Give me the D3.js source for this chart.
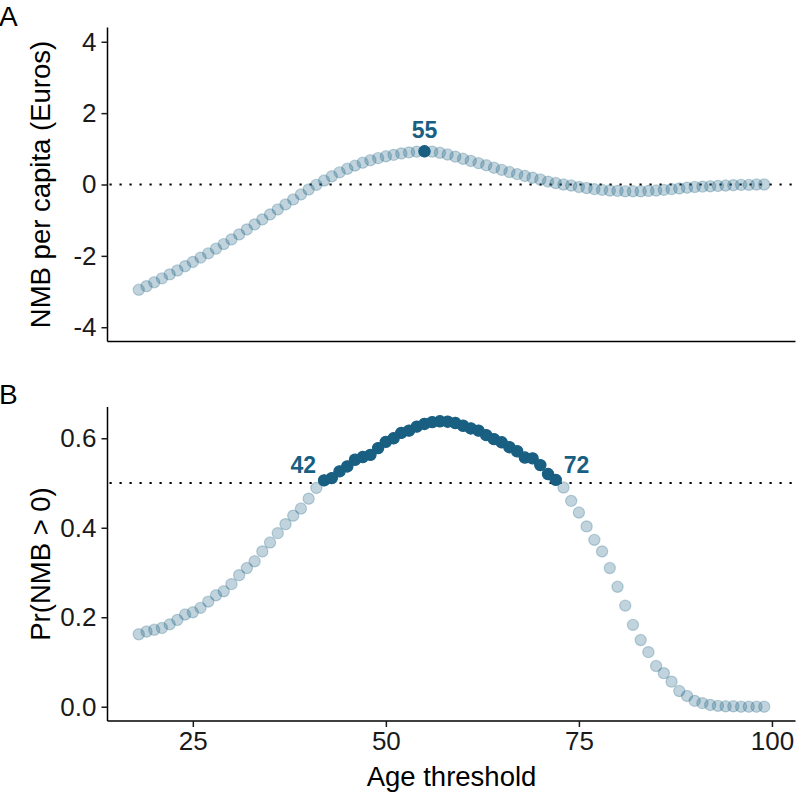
<!DOCTYPE html>
<html>
<head>
<meta charset="utf-8">
<script src="https://cdn.jsdelivr.net/npm/d3@7"></script>
<style>
  body { margin: 0; background: #fff; }
  svg text { font-family: "Liberation Sans", Arial, sans-serif; }
</style>
</head>
<body>
<div id="chart"></div>
<script>
// Age thresholds (x), shared by both panels
var ages = [18, 19, 20, 21, 22, 23, 24, 25, 26, 27, 28, 29, 30, 31, 32, 33, 34, 35, 36, 37,
  38, 39, 40, 41, 42, 43, 44, 45, 46, 47, 48, 49, 50, 51, 52, 53, 54, 55, 56, 57,
  58, 59, 60, 61, 62, 63, 64, 65, 66, 67, 68, 69, 70, 71, 72, 73, 74, 75, 76, 77,
  78, 79, 80, 81, 82, 83, 84, 85, 86, 87, 88, 89, 90, 91, 92, 93, 94, 95, 96, 97,
  98, 99];

// Panel A: net monetary benefit per capita (Euros)
var nmb = [-2.95, -2.85, -2.74, -2.63, -2.52, -2.41, -2.29, -2.17, -2.05, -1.93,
  -1.80, -1.67, -1.54, -1.40, -1.26, -1.12, -0.98, -0.84, -0.70, -0.56,
  -0.42, -0.28, -0.14, -0.01, 0.11, 0.23, 0.34, 0.44, 0.53, 0.61,
  0.68, 0.74, 0.79, 0.83, 0.87, 0.90, 0.92, 0.93, 0.92, 0.89,
  0.84, 0.78, 0.72, 0.66, 0.60, 0.54, 0.47, 0.41, 0.35, 0.29,
  0.24, 0.19, 0.14, 0.08, 0.04, 0.00, -0.03, -0.07, -0.10, -0.13,
  -0.15, -0.17, -0.18, -0.19, -0.19, -0.19, -0.18, -0.17, -0.15, -0.13,
  -0.11, -0.09, -0.07, -0.06, -0.05, -0.04, -0.03, -0.02, -0.01, -0.01,
  0.00, 0.00];

// Panel B: probability that NMB > 0
var prob = [0.162, 0.168, 0.172, 0.176, 0.184, 0.194, 0.206, 0.211, 0.221, 0.235,
  0.249, 0.258, 0.274, 0.294, 0.310, 0.325, 0.347, 0.367, 0.388, 0.408,
  0.427, 0.443, 0.465, 0.489, 0.506, 0.511, 0.526, 0.537, 0.552, 0.558,
  0.563, 0.578, 0.592, 0.600, 0.612, 0.617, 0.626, 0.632, 0.636, 0.638,
  0.637, 0.634, 0.628, 0.622, 0.617, 0.607, 0.598, 0.591, 0.580, 0.571,
  0.557, 0.555, 0.540, 0.520, 0.507, 0.490, 0.460, 0.434, 0.403, 0.373,
  0.347, 0.310, 0.268, 0.226, 0.183, 0.149, 0.122, 0.091, 0.075, 0.056,
  0.035, 0.024, 0.013, 0.008, 0.004, 0.002, 0.001, 0.001, 0.000, 0.000,
  0.000, 0.000];

var xTicks = [25, 50, 75, 100];
var yTicksA = [-4, -2, 0, 2, 4];
var yTicksB = [0, 0.2, 0.4, 0.6];
var bestAge = 55;          // optimum NMB
var probLabels = [42, 72]; // range where Pr(NMB > 0) > 0.5
var refA = 0, refB = 0.5;

// Layout
var width = 797, height = 793;
var left = 107.5, right = 795.5;
var darkCol = "#195f82";
var tickCol = "#1a1a1a";

var svg = d3.select("#chart").append("svg")
    .attr("width", width)
    .attr("height", height);

// x scale with ggplot-like 5% expansion
var xExt = d3.extent(ages), xPad = (xExt[1] - xExt[0]) * 0.05;
var x = d3.scaleLinear()
    .domain([xExt[0] - xPad, xExt[1] + xPad])
    .range([left, right]);

var yA = d3.scaleLinear()
    .domain([-4.4, 4.4])
    .range([341.5, 27.5]);

var pExt = d3.extent(prob), pPad = (pExt[1] - pExt[0]) * 0.05;
var yB = d3.scaleLinear()
    .domain([pExt[0] - pPad, pExt[1] + pPad])
    .range([721, 407]);

var rows = ages.map(function(a, i) { return {age: a, nmb: nmb[i], prob: prob[i]}; });

function styleAxis(g) {
  g.select(".domain").attr("stroke", "#000").attr("stroke-width", 1.5);
  g.selectAll(".tick line").attr("stroke", tickCol).attr("stroke-width", 1.5);
  g.selectAll(".tick text")
    .attr("fill", tickCol)
    .style("font-size", "26px");
}

function drawPoints(g, yScale, key, isDark) {
  g.selectAll("circle.light")
    .data(rows)
    .enter().append("circle")
      .attr("class", "light")
      .attr("cx", function(d) { return x(d.age); })
      .attr("cy", function(d) { return yScale(d[key]); })
      .attr("r", 5.6)
      .attr("fill", darkCol)
      .attr("fill-opacity", 0.27)
      .attr("stroke", darkCol)
      .attr("stroke-opacity", 0.27)
      .attr("stroke-width", 1.2);
  g.selectAll("circle.dark")
    .data(rows.filter(isDark))
    .enter().append("circle")
      .attr("class", "dark")
      .attr("cx", function(d) { return x(d.age); })
      .attr("cy", function(d) { return yScale(d[key]); })
      .attr("r", 5.6)
      .attr("fill", darkCol)
      .attr("stroke", darkCol)
      .attr("stroke-width", 1.2);
}

function refLine(yScale, v) {
  svg.append("line")
    .attr("x1", left + 2).attr("x2", right)
    .attr("y1", yScale(v)).attr("y2", yScale(v))
    .attr("stroke", "#000")
    .attr("stroke-width", 2.2)
    .attr("stroke-dasharray", "2.2 7.8");
}

// hyphen minus like the original, not the unicode minus
var fmtA = function(d) { return String(d); };

// ---------- Panel A ----------
refLine(yA, refA);

var gA = svg.append("g");
drawPoints(gA, yA, "nmb", function(d) { return d.age == bestAge; });

var axA = svg.append("g")
    .attr("transform", "translate(" + left + ",0)")
    .call(d3.axisLeft(yA).tickValues(yTicksA).tickSize(6).tickPadding(5).tickFormat(fmtA));
styleAxis(axA);
axA.select(".domain").attr("d", "M0," + yA.range()[0] + "V" + yA.range()[1]);

svg.append("line")
  .attr("x1", left).attr("x2", right)
  .attr("y1", yA.range()[0]).attr("y2", yA.range()[0])
  .attr("stroke", "#000").attr("stroke-width", 1.5);

var best = rows.filter(function(d) { return d.age == bestAge; })[0];
svg.append("text")
  .attr("x", x(best.age))
  .attr("y", yA(best.nmb) - 13)
  .attr("text-anchor", "middle")
  .attr("fill", darkCol)
  .style("font-size", "23px")
  .style("font-weight", "bold")
  .text(best.age);

svg.append("text")
  .attr("transform", "translate(50," + (yA.range()[0] + yA.range()[1]) / 2 + ") rotate(-90)")
  .attr("text-anchor", "middle")
  .attr("fill", "#000")
  .style("font-size", "27.5px")
  .text("NMB per capita (Euros)");

svg.append("text")
  .attr("x", -1).attr("y", 26)
  .style("font-size", "28px")
  .text("A");

// ---------- Panel B ----------
refLine(yB, refB);

var gB = svg.append("g");
drawPoints(gB, yB, "prob", function(d) { return d.age >= probLabels[0] && d.age <= probLabels[1]; });

var axB = svg.append("g")
    .attr("transform", "translate(" + left + ",0)")
    .call(d3.axisLeft(yB).tickValues(yTicksB).tickSize(6).tickPadding(5).tickFormat(d3.format(".1f")));
styleAxis(axB);
axB.select(".domain").attr("d", "M0," + yB.range()[0] + "V" + yB.range()[1]);

var axX = svg.append("g")
    .attr("transform", "translate(0," + yB.range()[0] + ")")
    .call(d3.axisBottom(x).tickValues(xTicks).tickSize(6).tickPadding(5));
styleAxis(axX);
axX.select(".domain").attr("d", "M" + left + ",0H" + right);

probLabels.forEach(function(a, i) {
  var d = rows.filter(function(r) { return r.age == a; })[0];
  svg.append("text")
    .attr("x", x(d.age) + (i == 0 ? -8 : 8))
    .attr("y", yB(d.prob) - 7)
    .attr("text-anchor", i == 0 ? "end" : "start")
    .attr("fill", darkCol)
    .style("font-size", "23px")
    .style("font-weight", "bold")
    .text(d.age);
});

svg.append("text")
  .attr("transform", "translate(50," + (yB.range()[0] + yB.range()[1]) / 2 + ") rotate(-90)")
  .attr("text-anchor", "middle")
  .attr("fill", "#000")
  .style("font-size", "27.5px")
  .text("Pr(NMB > 0)");

svg.append("text")
  .attr("x", (left + right) / 2)
  .attr("y", 786)
  .attr("text-anchor", "middle")
  .attr("fill", "#000")
  .style("font-size", "27.5px")
  .text("Age threshold");

svg.append("text")
  .attr("x", -1).attr("y", 404)
  .style("font-size", "28px")
  .text("B");
</script>
</body>
</html>
